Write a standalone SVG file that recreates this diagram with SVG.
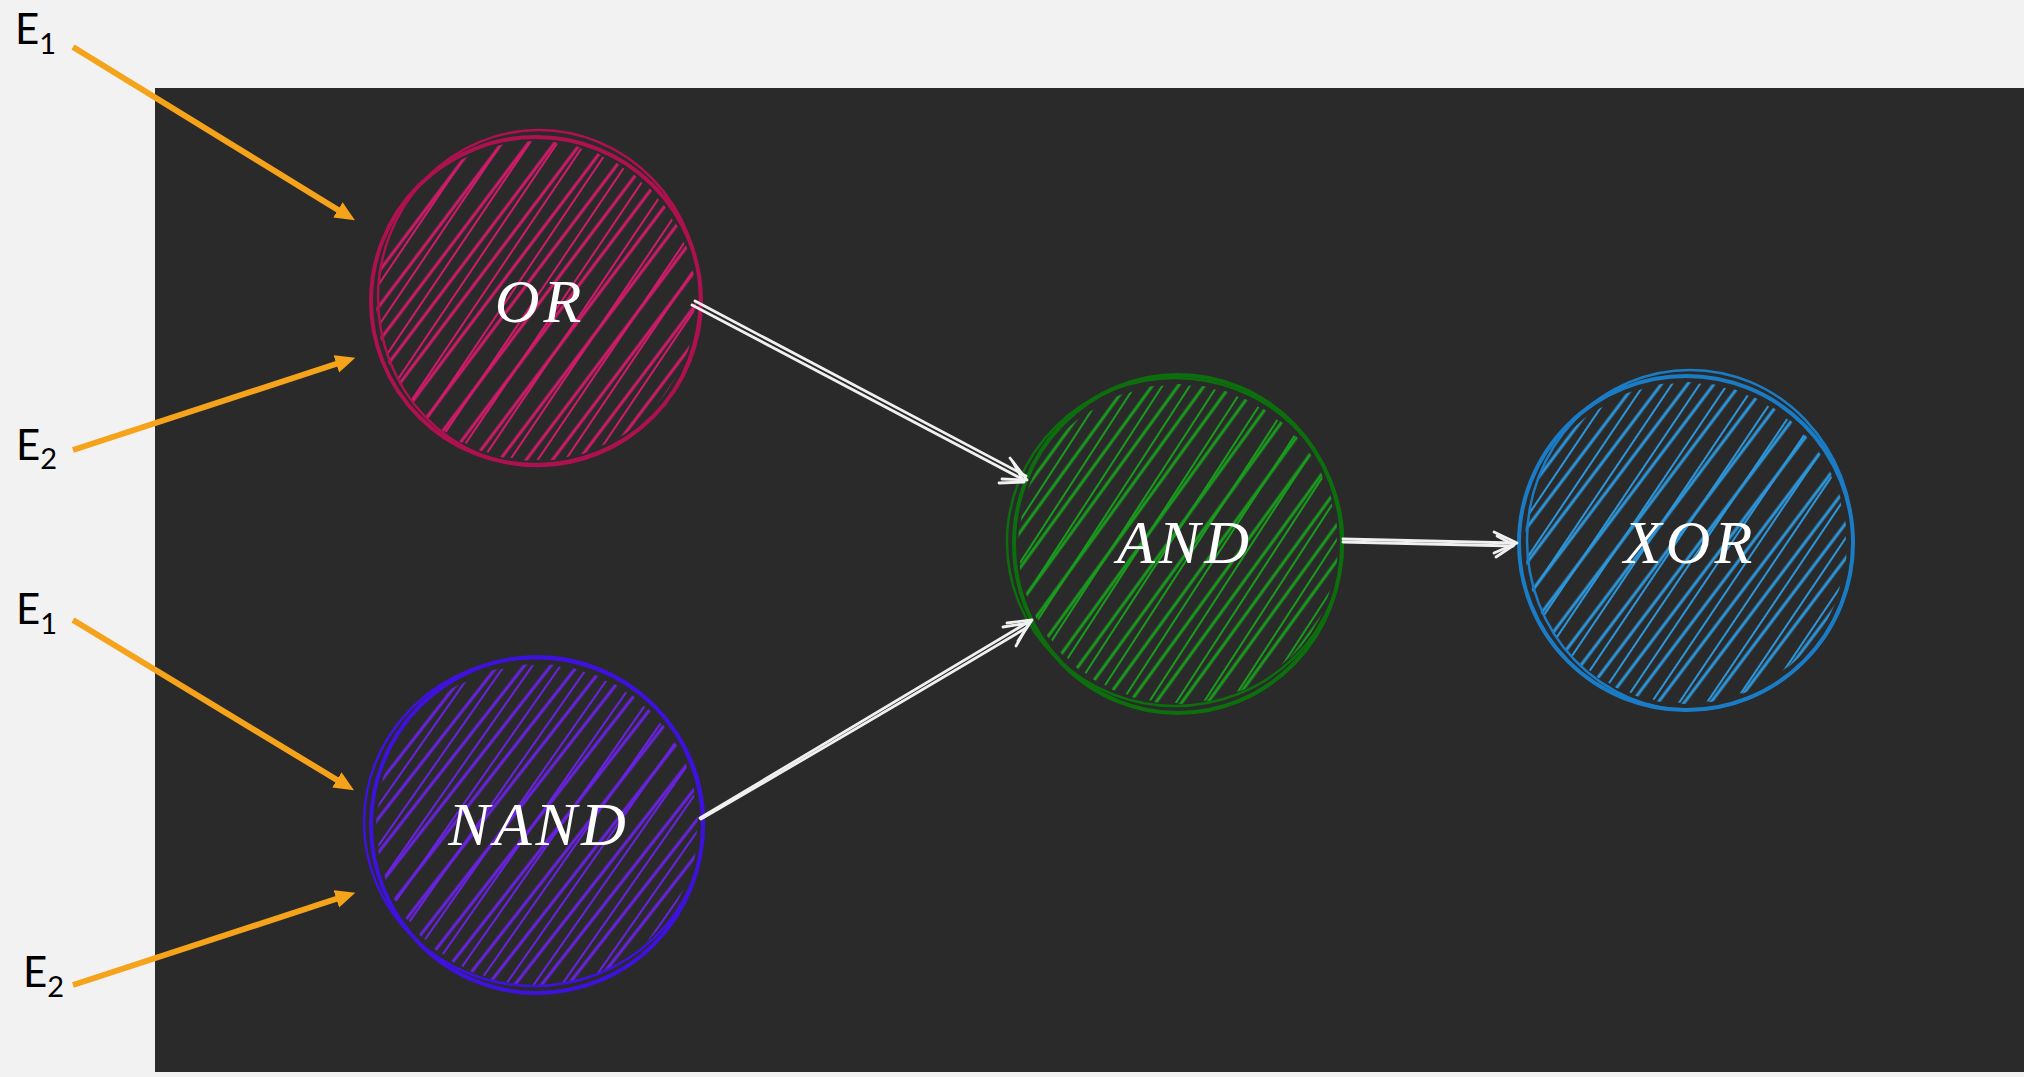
<svg xmlns="http://www.w3.org/2000/svg" width="2024" height="1077" viewBox="0 0 2024 1077">
  <style>
    .label { font-family: Lato, "Open Sans", "Liberation Sans", sans-serif; font-size: 42px; fill: #000; }
    .label .sub { font-size: 29px; }
    .gate { font-family: "Liberation Serif", "DejaVu Serif", serif; font-style: italic; font-size: 62px; letter-spacing: 4px; fill: #ffffff; text-anchor: middle; }
    .input { stroke: #f5a31b; stroke-width: 6; fill: none; marker-end: url(#orange-head); }
    .wire { stroke: #f0f0f0; stroke-width: 2.8; fill: none; stroke-linecap: round; stroke-linejoin: round; }
    .rim1 { fill: none; stroke-width: 4; }
    .rim2 { fill: none; stroke-width: 2.5; }
    .thick line { stroke-width: 3; }
    .thin line { stroke-width: 2; }
    .or line { stroke: #d01b6a; }
    .or-rim { stroke: #ad114f; }
    .and line { stroke: #199b1d; }
    .and-rim { stroke: #0c6e0d; }
    .xor line { stroke: #2d96da; }
    .xor-rim { stroke: #1b7cc6; }
    .nand line { stroke: #6a22e2; }
    .nand-rim { stroke: #3e12dc; }
  </style>
  <defs>
    <marker id="orange-head" markerUnits="userSpaceOnUse" markerWidth="22" markerHeight="20" refX="6" refY="9" orient="auto">
      <path d="M0,0 L20,9 L0,18 z" fill="#f5a31b"/>
    </marker>
    <!-- hachure fills: two slightly skewed line sets per colour -->
    <pattern id="hA-or" class="thick or" width="21" height="21" patternUnits="userSpaceOnUse" patternTransform="rotate(-53)"><line x1="0" y1="4" x2="21" y2="4"/></pattern>
    <pattern id="hB-or" class="thin or" width="23" height="23" patternUnits="userSpaceOnUse" patternTransform="rotate(-56) translate(0,9)"><line x1="0" y1="4" x2="23" y2="4"/></pattern>
    <pattern id="hA-and" class="thick and" width="21" height="21" patternUnits="userSpaceOnUse" patternTransform="rotate(-54)"><line x1="0" y1="4" x2="21" y2="4"/></pattern>
    <pattern id="hB-and" class="thin and" width="23" height="23" patternUnits="userSpaceOnUse" patternTransform="rotate(-57) translate(0,8)"><line x1="0" y1="4" x2="23" y2="4"/></pattern>
    <pattern id="hA-xor" class="thick xor" width="21" height="21" patternUnits="userSpaceOnUse" patternTransform="rotate(-53)"><line x1="0" y1="4" x2="21" y2="4"/></pattern>
    <pattern id="hB-xor" class="thin xor" width="23" height="23" patternUnits="userSpaceOnUse" patternTransform="rotate(-56) translate(0,10)"><line x1="0" y1="4" x2="23" y2="4"/></pattern>
    <pattern id="hA-nand" class="thick nand" width="21" height="21" patternUnits="userSpaceOnUse" patternTransform="rotate(-52)"><line x1="0" y1="4" x2="21" y2="4"/></pattern>
    <pattern id="hB-nand" class="thin nand" width="23" height="23" patternUnits="userSpaceOnUse" patternTransform="rotate(-55) translate(0,9)"><line x1="0" y1="4" x2="23" y2="4"/></pattern>
  </defs>

  <!-- page and canvas -->
  <rect x="0" y="0" width="2024" height="1077" fill="#f2f2f2"/>
  <rect x="155" y="88" width="1869" height="984" fill="#2a2a2a"/>

  <!-- gates -->
  <g id="node-or">
    <circle cx="536" cy="301" r="160" fill="url(#hA-or)"/>
    <circle cx="536" cy="301" r="159" fill="url(#hB-or)"/>
    <ellipse class="rim1 or-rim" cx="536" cy="301" rx="165" ry="164"/>
    <ellipse class="rim2 or-rim" cx="539" cy="298" rx="161" ry="168"/>
    <text class="gate" x="540" y="322">OR</text>
  </g>
  <g id="node-and">
    <circle cx="1178" cy="544" r="160" fill="url(#hA-and)"/>
    <circle cx="1178" cy="544" r="159" fill="url(#hB-and)"/>
    <ellipse class="rim1 and-rim" cx="1178" cy="544" rx="164" ry="169"/>
    <ellipse class="rim2 and-rim" cx="1175" cy="542" rx="168" ry="164"/>
    <text class="gate" x="1185" y="563">AND</text>
  </g>
  <g id="node-xor">
    <circle cx="1686" cy="543" r="161" fill="url(#hA-xor)"/>
    <circle cx="1686" cy="543" r="160" fill="url(#hB-xor)"/>
    <ellipse class="rim1 xor-rim" cx="1686" cy="543" rx="167" ry="167"/>
    <ellipse class="rim2 xor-rim" cx="1690" cy="540" rx="163" ry="170"/>
    <text class="gate" x="1690" y="563">XOR</text>
  </g>
  <g id="node-nand">
    <circle cx="537" cy="825" r="161" fill="url(#hA-nand)"/>
    <circle cx="537" cy="825" r="160" fill="url(#hB-nand)"/>
    <ellipse class="rim1 nand-rim" cx="537" cy="825" rx="166" ry="168"/>
    <ellipse class="rim2 nand-rim" cx="534" cy="822" rx="170" ry="164"/>
    <text class="gate" x="539" y="845">NAND</text>
  </g>

  <!-- input labels -->
  <g id="label-e1-top"><text class="label" x="15" y="44">E<tspan class="sub" dy="10">1</tspan></text></g>
  <g id="label-e2-top"><text class="label" x="16" y="460">E<tspan class="sub" dy="9">2</tspan></text></g>
  <g id="label-e1-bottom"><text class="label" x="16" y="624">E<tspan class="sub" dy="10">1</tspan></text></g>
  <g id="label-e2-bottom"><text class="label" x="23" y="987">E<tspan class="sub" dy="10">2</tspan></text></g>

  <!-- connectors -->
  <g id="connectors">
    <path class="input" d="M73,47 L343,213"/>
    <path class="input" d="M73,450 L342,362"/>
    <path class="input" d="M73,620 L342,783"/>
    <path class="input" d="M73,985 L342,897"/>

    <path class="wire" d="M692,305 L1024,480"/>
    <path class="wire" d="M695,301 Q860,388 1026,476"/>
    <path class="wire" d="M1010,458 L1027,480 L1002,479"/>
    <path class="wire" d="M1013,462 L1024,482 L999,483"/>

    <path class="wire" d="M700,818 L1030,621"/>
    <path class="wire" d="M701,819 Q870,721 1026,628"/>
    <path class="wire" d="M1007,623 L1032,620 L1018,641"/>
    <path class="wire" d="M1003,627 L1029,623 L1016,646"/>

    <path class="wire" d="M1343,539 Q1430,541 1515,543"/>
    <path class="wire" d="M1343,542 Q1430,544 1513,546"/>
    <path class="wire" d="M1494,532 L1517,543 L1494,553"/>
    <path class="wire" d="M1497,536 L1514,545 L1496,557"/>
  </g>
</svg>
